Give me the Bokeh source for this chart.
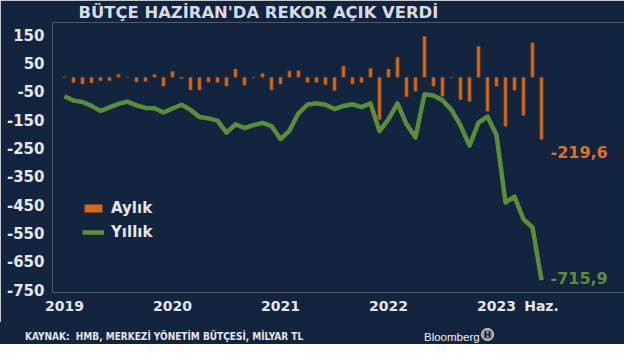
from bokeh.plotting import figure
from bokeh.layouts import column
from bokeh.models import Range1d, FixedTicker, Legend, LegendItem, ColumnDataSource, Div
from bokeh.embed import file_html
from bokeh.resources import INLINE

# ---- data (billion TL) ----
months = [f"{y}-{m:02d}" for y in range(2019, 2024) for m in range(1, 13)][:54]
aylik = [2, -19, -24, -20, -12, -12, 11, -1, -17, -15, 10, -31,
         21, -5, -45, -45, -17, -18, -31, 29, -28, -2, 13, -45,
         -24, 22, 24, -18, -18, -26, -47, 40, -24, -19, 32, -149,
         29, 71, -69, -49, 145, -32, -67, -2, -79, -85, 110, -120,
         -32, -173, -46, -135, 122, -219.6]
yillik = [-67, -82, -87, -101, -119, -106, -94, -86, -99, -108, -109, -124,
          -110, -97, -115, -140, -145, -153, -195, -166, -179, -169, -161, -172,
          -218, -188, -127, -96, -92, -97, -112, -101, -95, -105, -92, -190,
          -148, -92, -165, -212, -60, -64, -81, -115, -170, -241, -160, -139,
          -204, -442, -421, -501, -530, -715.9]
x_ticks = [0, 12, 24, 36, 48, 53]
x_tick_labels = ["2019", "2020", "2021", "2022", "2023", "Haz."]
y_ticks = [150, 50, -50, -150, -250, -350, -450, -550, -650, -750]
y_tick_labels = ["150", "50", "-50", "-150", "-250", "-350", "-450", "-550", "-650", "-750"]
title_text = "BÜTÇE HAZİRAN'DA REKOR AÇIK VERDİ"
source_text = "KAYNAK:&nbsp; HMB, MERKEZİ YÖNETİM BÜTÇESİ, MİLYAR TL"
brand_text = "Bloomberg"

BG = "#13243f"
ORANGE = "#d2691e"
GREEN = "#5b8e3b"
TXT = "#e4e6ea"
FONT = "DejaVu Sans"

x = list(range(len(months)))
src = ColumnDataSource(dict(x=x, month=months, aylik=aylik, yillik=yillik))

p = figure(width=624, height=322, output_backend="svg", toolbar_location=None,
           x_range=Range1d(-1.333, 62.222), y_range=Range1d(-759.5, 193.4),
           min_border_left=52, min_border_right=0, min_border_top=22, min_border_bottom=30,
           background_fill_color=BG, border_fill_color=BG, outline_line_color=None,
           title=title_text)
p.grid.visible = False

p.title.align = "left"
p.title.offset = 26
p.title.standoff = 1
p.title.text_color = "#d8dce2"
p.title.text_font = FONT
p.title.text_font_style = "bold"
p.title.text_font_size = "16.4px"

bars = p.vbar(x="x", top="aylik", bottom=0, width=0.36, source=src,
              fill_color=ORANGE, line_color="#8a4414", line_width=0.6)
line = p.line(x="x", y="yillik", source=src, line_color=GREEN, line_width=4.5,
              line_join="round")

for ax in (p.xaxis[0], p.yaxis[0]):
    ax.axis_line_color = None
    ax.major_tick_line_color = None
    ax.minor_tick_line_color = None
    ax.major_tick_out = 0
    ax.major_tick_in = 0
    ax.minor_tick_out = 0
    ax.major_label_text_color = TXT
    ax.major_label_text_font = FONT
    ax.major_label_text_font_style = "bold"

p.xaxis.ticker = FixedTicker(ticks=x_ticks)
p.xaxis.major_label_overrides = {t: l for t, l in zip(x_ticks, x_tick_labels)}
p.xaxis.major_label_text_font_size = "14px"
p.xaxis.major_label_standoff = 5

p.yaxis.ticker = FixedTicker(ticks=y_ticks)
p.yaxis.major_label_overrides = {t: l for t, l in zip(y_ticks, y_tick_labels)}
p.yaxis.major_label_text_font_size = "15px"
p.yaxis.major_label_standoff = 8

# end-value labels
p.text(x=[x[-1]], y=[aylik[-1]], text=[f"{aylik[-1]:.1f}".replace(".", ",")],
       x_offset=9, y_offset=12, text_align="left", text_baseline="middle",
       text_color="#d9722c", text_font_size="16px", text_font_style="bold",
       text_font={"value": FONT})
p.text(x=[x[-1]], y=[yillik[-1]], text=[f"{yillik[-1]:.1f}".replace(".", ",")],
       x_offset=9, y_offset=-2, text_align="left", text_baseline="middle",
       text_color=GREEN, text_font_size="16px", text_font_style="bold",
       text_font={"value": FONT})

legend = Legend(items=[LegendItem(label="Aylık", renderers=[bars]),
                       LegendItem(label="Yıllık", renderers=[line])],
                location=(30, 50), padding=0, margin=0, spacing=4,
                glyph_width=22, glyph_height=10, label_height=20,
                label_standoff=7, background_fill_alpha=0, border_line_alpha=0,
                label_text_color=TXT, label_text_font=FONT,
                label_text_font_style="bold", label_text_font_size="15px")
p.add_layout(legend)

# footer strip (source line and brand)
footer_html = (
    f'<div style="position:relative;width:624px;height:22px;background:{BG};overflow:hidden;">'
    f'<span style="position:absolute;left:25px;top:8px;line-height:14px;'
    f'font-family:\'DejaVu Sans Condensed\',\'DejaVu Sans\';font-weight:bold;'
    f'font-size:10px;color:{TXT};white-space:nowrap;">{source_text}</span>'
    f'<span style="position:absolute;left:424px;top:7px;line-height:16px;'
    f'font-family:\'Liberation Sans\';font-size:11.5px;color:#f2f2f2;'
    f'white-space:nowrap;">{brand_text}</span>'
    f'<span style="position:absolute;left:481px;top:6px;width:13px;height:13px;'
    f'border-radius:50%;background:#8e939b;border:1.5px solid #e8e8e8;'
    f'color:#1a1a1a;font-family:\'DejaVu Sans\';font-weight:bold;font-size:9px;'
    f'line-height:13px;text-align:center;">H</span>'
    f'</div>'
)
f = Div(text=footer_html, width=624, height=22, margin=0,
        styles={"background-color": BG})

layout = column(p, f, spacing=0)
open("out.html", "w").write(file_html(layout, INLINE))
